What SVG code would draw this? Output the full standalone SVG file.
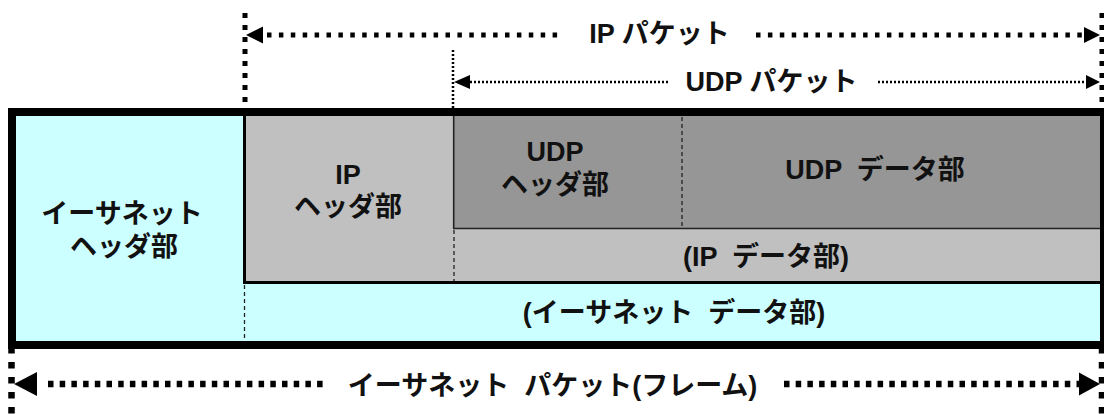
<svg xmlns="http://www.w3.org/2000/svg" width="1104" height="414" viewBox="0 0 1104 414">
<style>
text{font-family:"Liberation Sans","Noto Sans CJK JP",sans-serif;font-weight:bold;font-size:27px;fill:#111;text-anchor:middle;dominant-baseline:central;white-space:pre}
.thick{stroke:#000;stroke-width:5;stroke-dasharray:4.5 7.4;fill:none}
.vthick{stroke:#000;stroke-width:5;stroke-dasharray:5 7;fill:none}
.thin{stroke:#000;stroke-width:2.5;stroke-dasharray:2 2;fill:none}
.big{stroke:#000;stroke-width:6.5;stroke-dasharray:5.5 6.2;fill:none}
.vbig{stroke:#000;stroke-width:6.5;stroke-dasharray:6.5 8.5;fill:none}
.head{fill:#000}
.div{stroke:#222;stroke-width:1.3;stroke-dasharray:4 3;fill:none}
</style>
<rect width="1104" height="414" fill="#fff"/>
<g id="frame">
<rect x="12" y="112" width="1092" height="233" fill="#ccffff" stroke="#000" stroke-width="8"/>
</g>
<g id="ip-region">
<rect x="244.5" y="116" width="855.5" height="166.5" fill="#c0c0c0"/>
<line x1="244.5" y1="116" x2="244.5" y2="284" stroke="#000" stroke-width="3"/>
<line x1="243" y1="282.5" x2="1100" y2="282.5" stroke="#000" stroke-width="3"/>
</g>
<g id="udp-region">
<rect x="454" y="116" width="646" height="112.5" fill="#969696"/>
<line x1="453.7" y1="116" x2="453.7" y2="229" stroke="#222" stroke-width="1.6"/>
<line x1="453" y1="228.5" x2="1100" y2="228.5" stroke="#222" stroke-width="1.6"/>
</g>
<g id="dividers">
<line class="div" x1="682" y1="117" x2="682" y2="228"/>
<line class="div" x1="454" y1="230" x2="454" y2="281"/>
<line class="div" x1="244.5" y1="285" x2="244.5" y2="341"/>
</g>
<g id="node-eth-header"><text x="122" y="214">イーサネット</text><text x="124" y="247">ヘッダ部</text></g>
<g id="node-ip-header"><text x="348" y="175">IP</text><text x="348" y="207">ヘッダ部</text></g>
<g id="node-udp-header"><text x="555" y="152">UDP</text><text x="555" y="185">ヘッダ部</text></g>
<g id="node-udp-data"><text x="875" y="170">UDP  データ部</text></g>
<g id="node-ip-data"><text x="766" y="257">(IP  データ部)</text></g>
<g id="node-eth-data"><text x="674" y="313">(イーサネット  データ部)</text></g>
<g id="connectors">
<line class="vthick" x1="245" y1="13" x2="245" y2="108"/>
<line class="vthick" x1="1102" y1="13" x2="1102" y2="108"/>
<line class="thick" x1="267" y1="35" x2="562" y2="35"/>
<line class="thick" x1="756" y1="35" x2="1084" y2="35"/>
<polygon class="head" points="246,35 263,26.5 263,43.5"/>
<polygon class="head" points="1100,35 1084,27 1084,43"/>
<text x="659.5" y="34">IP パケット</text>
<line class="thin" x1="453" y1="50" x2="453" y2="108"/>
<line class="thin" x1="470" y1="82" x2="668" y2="82"/>
<line class="thin" x1="878" y1="82" x2="1086" y2="82"/>
<polygon class="head" points="454,82 470,75 470,89"/>
<polygon class="head" points="1100,82 1086,75 1086,89"/>
<text x="771.5" y="82">UDP パケット</text>
<line class="vbig" x1="11.5" y1="347" x2="11.5" y2="414"/>
<line class="vbig" x1="1102" y1="347" x2="1102" y2="414"/>
<line class="big" x1="48" y1="384" x2="328" y2="384"/>
<line class="big" x1="784" y1="384" x2="1079" y2="384"/>
<polygon class="head" points="14,384 37,372 37,396"/>
<polygon class="head" points="1100,384 1079,372.5 1079,395.5"/>
<text x="552.5" y="386">イーサネット  パケット(フレーム)</text>
</g>
</svg>
